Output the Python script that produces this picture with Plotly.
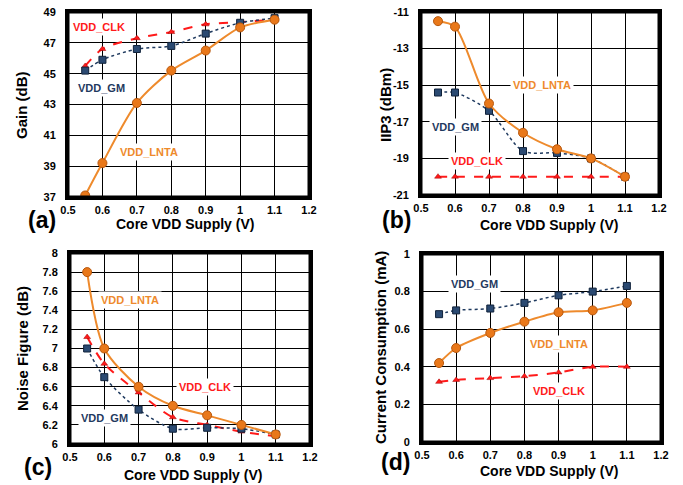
import plotly.graph_objects as go

# ---------------- data ----------------
vdd = [0.55, 0.6, 0.7, 0.8, 0.9, 1.0, 1.1]

gain_lnta = [37.1, 39.2, 43.1, 45.2, 46.5, 48.0, 48.5]
gain_gm = [45.2, 45.9, 46.6, 46.8, 47.6, 48.3, 48.6]
gain_clk = [45.5, 46.6, 47.3, 47.7, 48.2, 48.35, 48.5]

iip3_lnta = [-11.5, -11.8, -16.0, -17.6, -18.5, -19.0, -20.0]
iip3_gm = [-15.4, -15.4, -16.4, -18.6, -18.7, -19.0, -20.0]
iip3_clk = [-20.0, -20.0, -20.0, -20.0, -20.0, -20.0, -20.0]

nf_lnta = [7.8, 7.0, 6.6, 6.4, 6.3, 6.2, 6.1]
nf_gm = [7.0, 6.7, 6.36, 6.16, 6.17, 6.16, 6.1]
nf_clk = [7.12, 6.84, 6.54, 6.28, 6.2, 6.13, 6.08]

cur_lnta = [0.42, 0.50, 0.58, 0.64, 0.69, 0.70, 0.74]
cur_gm = [0.68, 0.70, 0.71, 0.74, 0.78, 0.80, 0.83]
cur_clk = [0.32, 0.33, 0.34, 0.35, 0.37, 0.40, 0.40]

x_ticks = [0.5, 0.6, 0.7, 0.8, 0.9, 1.0, 1.1, 1.2]
x_ticktext = ["0.5", "0.6", "0.7", "0.8", "0.9", "1", "1.1", "1.2"]
gain_ticks = [37, 39, 41, 43, 45, 47, 49]
iip3_ticks = [-21, -19, -17, -15, -13, -11]
nf_ticks = [6, 6.2, 6.4, 6.6, 6.8, 7, 7.2, 7.4, 7.6, 7.8, 8]
nf_ticktext = ["6", "6.2", "6.4", "6.6", "6.8", "7", "7.2", "7.4", "7.6", "7.8", "8"]
cur_ticks = [0, 0.2, 0.4, 0.6, 0.8, 1]
cur_ticktext = ["0", "0.2", "0.4", "0.6", "0.8", "1"]

series_names = ["VDD_LNTA", "VDD_GM", "VDD_CLK"]
panel_labels = ["(a)", "(b)", "(c)", "(d)"]
y_titles = ["Gain (dB)", "IIP3 (dBm)", "Noise Figure (dB)", "Current Consumption (mA)"]
x_title = "Core VDD Supply (V)"

# ---------------- styling ----------------
W, H = 683, 485
ORANGE = "#EE8A2C"
ORANGE_EDGE = "#B8580E"
NAVY = "#1F3A5F"
RED = "#FF1A1A"
FONT = "Liberation Sans, Arial, sans-serif"

# plot areas in pixels: (left, top, right, bottom)
boxes = [(68, 12, 309, 197), (421, 12, 659, 195), (70, 253, 310, 444), (422, 254, 661, 442)]


def dom(b):
    l, t, r, btm = b
    return [l / W, r / W], [1 - btm / H, 1 - t / H]


fig = go.Figure()

panels = [
    (gain_lnta, gain_gm, gain_clk, [37, 49], gain_ticks, [str(v) for v in gain_ticks]),
    (iip3_lnta, iip3_gm, iip3_clk, [-21, -11], iip3_ticks, [str(v) for v in iip3_ticks]),
    (nf_lnta, nf_gm, nf_clk, [6, 8], nf_ticks, nf_ticktext),
    (cur_lnta, cur_gm, cur_clk, [0, 1], cur_ticks, cur_ticktext),
]

layout_axes = {}
frames = []
for i, (lnta, gm, clk, yr, yt, ytt) in enumerate(panels):
    n = "" if i == 0 else str(i + 1)
    xa, ya = "x" + n, "y" + n
    fig.add_trace(go.Scatter(
        x=vdd, y=clk, xaxis=xa, yaxis=ya, mode="lines+markers", name=series_names[2],
        line=dict(color=RED, width=2, dash="dash", shape="spline", smoothing=0.8),
        marker=dict(symbol="triangle-up", size=6, color=RED, line=dict(color="#A00000", width=0.5)),
        showlegend=False))
    fig.add_trace(go.Scatter(
        x=vdd, y=gm, xaxis=xa, yaxis=ya, mode="lines+markers", name=series_names[1],
        line=dict(color=NAVY, width=1.5, dash="dot", shape="spline", smoothing=0.8),
        marker=dict(symbol="square", size=7, color="#2B4A72", line=dict(color="#10223A", width=1)),
        showlegend=False))
    fig.add_trace(go.Scatter(
        x=vdd, y=lnta, xaxis=xa, yaxis=ya, mode="lines+markers", name=series_names[0],
        line=dict(color=ORANGE, width=2, shape="spline", smoothing=0.8),
        marker=dict(symbol="circle", size=9, color="#E9781A", line=dict(color=ORANGE_EDGE, width=1)),
        showlegend=False))

    xd, yd = dom(boxes[i])
    common = dict(showline=True, mirror=True, linewidth=3, linecolor="black",
                  showgrid=True, gridcolor="black", gridwidth=1, zeroline=False,
                  ticks="outside", tickcolor="white", tickwidth=1,
                  tickfont=dict(family=FONT, size=11, color="black"))
    layout_axes["xaxis" + n] = dict(domain=xd, range=[0.5, 1.2], tickvals=x_ticks,
                                    ticktext=["<b>%s</b>" % t for t in x_ticktext],
                                    anchor=ya, ticklen=1, **common)
    layout_axes["yaxis" + n] = dict(domain=yd, range=yr, tickvals=yt,
                                    ticktext=["<b>%s</b>" % t for t in ytt],
                                    anchor=xa, ticklen=7, **common)
    # thick plot-area frame
    frames.append(dict(type="rect", xref=xa + " domain", yref=ya + " domain",
                       x0=0, x1=1, y0=0, y1=1, line=dict(color="black", width=3),
                       fillcolor="rgba(0,0,0,0)", layer="above"))

# ---------------- text annotations ----------------
ann = []
label_pos = [
    (0, 2, 0.59, 48.05), (0, 1, 0.598, 44.1), (0, 0, 0.735, 39.9),
    (1, 0, 0.855, -15.0), (1, 1, 0.6, -17.3), (1, 2, 0.665, -19.15),
    (2, 0, 0.675, 7.51), (2, 2, 0.895, 6.6), (2, 1, 0.6, 6.27),
    (3, 1, 0.655, 0.84), (3, 0, 0.9, 0.52), (3, 2, 0.9, 0.27),
]
colors = [ORANGE, NAVY, RED]
for (p, s, x, y) in label_pos:
    n = "" if p == 0 else str(p + 1)
    ann.append(dict(x=x, y=y, xref="x" + n, yref="y" + n, text="<b>%s</b>" % series_names[s],
                    showarrow=False, font=dict(family=FONT, size=11, color=colors[s]),
                    bgcolor="white", borderpad=2))

xt_pos = [(185, 224), (549, 225), (193, 475), (549, 471)]
yt_pos = [(21, 105), (385, 105), (22, 349), (380, 348)]
pl_pos = [(42, 220), (396, 220), (38, 467), (395, 462)]
for i in range(4):
    ann.append(dict(x=xt_pos[i][0] / W, y=1 - xt_pos[i][1] / H, xref="paper", yref="paper",
                    text="<b>%s</b>" % x_title, showarrow=False, xanchor="center", yanchor="middle",
                    font=dict(family=FONT, size=14, color="black")))
    ann.append(dict(x=yt_pos[i][0] / W, y=1 - yt_pos[i][1] / H, xref="paper", yref="paper",
                    text="<b>%s</b>" % y_titles[i], showarrow=False, textangle=-90,
                    xanchor="center", yanchor="middle",
                    font=dict(family=FONT, size=15, color="black")))
    ann.append(dict(x=pl_pos[i][0] / W, y=1 - pl_pos[i][1] / H, xref="paper", yref="paper",
                    text="<b>%s</b>" % panel_labels[i], showarrow=False, xanchor="center",
                    yanchor="middle", font=dict(family=FONT, size=23, color="black")))

fig.update_layout(template="none", width=W, height=H,
                  margin=dict(l=0, r=0, t=0, b=0, autoexpand=False),
                  paper_bgcolor="white", plot_bgcolor="white", annotations=ann,
                  shapes=frames, showlegend=False, **layout_axes)

fig.write_html("out.html", config={"displayModeBar": False},
               post_script="document.body.style.margin='0px';")
